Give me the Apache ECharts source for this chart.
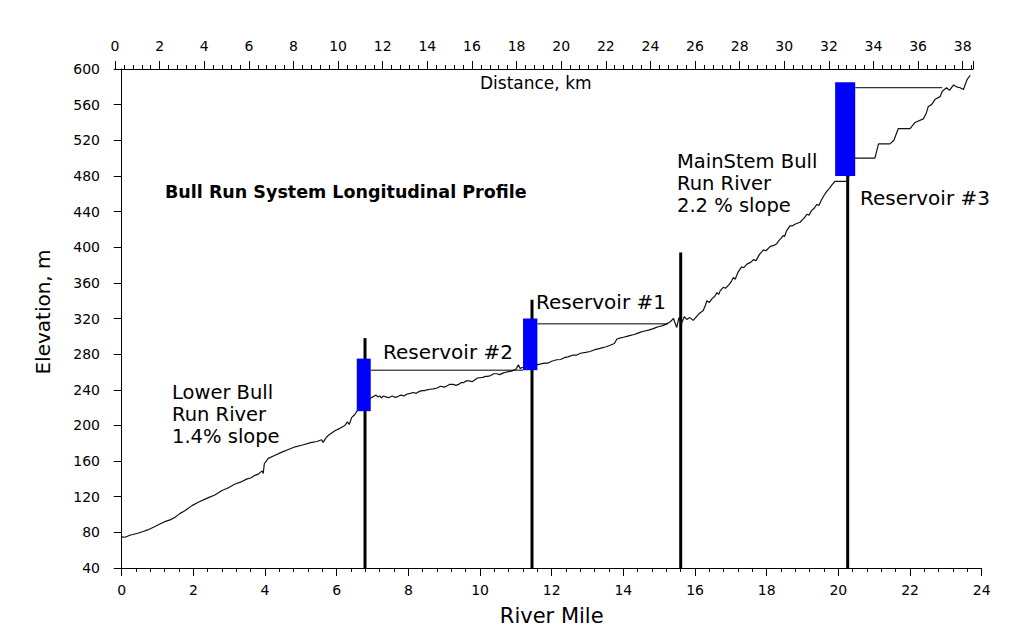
<!DOCTYPE html>
<html><head><meta charset="utf-8">
<script src="https://cdn.jsdelivr.net/npm/echarts@6/dist/echarts.min.js"></script>
<style>html,body{margin:0;padding:0;background:#fff}#c{width:1034px;height:631px}</style>
</head><body><div id="c"></div>
<script>
// ---- data ----
// longitudinal profile [river mile, elevation m]
const lowerRiver = [
  [0.00,75],[0.09,74.5],[0.25,77],[0.45,79],[0.60,81],[0.74,83],[0.90,86],[1.05,89],[1.20,92],[1.35,94],
  [1.49,97],[1.62,101],[1.75,104],[1.96,110],[2.15,114],[2.42,119],[2.60,122],[2.80,127],[2.98,130],[3.15,134],
  [3.35,137],[3.50,140],[3.60,141],[3.72,144],[3.80,145],[3.86,147],[3.92,149],[3.95,146],[3.98,157],[4.09,163],
  [4.25,166],[4.47,170],[4.65,173],[4.84,176],[5.05,178],[5.30,181],[5.45,182],[5.58,184],[5.62,181],[5.70,186],
  [5.77,189],[5.95,194],[6.10,197],[6.23,200],[6.30,204],[6.35,201],[6.42,209],[6.50,212],[6.60,218],[6.70,221],[6.76,224]
];
const reservoir2Reach = [
  [6.98,231.5],[7.05,233],[7.10,234],[7.15,232],[7.20,233],[7.25,231],[7.30,233],[7.38,232],[7.45,231],[7.55,233],
  [7.60,232],[7.67,231.5],[7.73,233],[7.80,234],[7.88,233],[7.95,235],[8.05,236],[8.14,237],[8.22,236],[8.30,238],
  [8.38,239],[8.45,239],[8.52,240],[8.60,240.6],[8.70,241],[8.80,242],[8.90,244],[9.00,243],[9.07,244.3],[9.15,246],
  [9.25,246],[9.33,245],[9.40,246],[9.47,248],[9.53,248],[9.62,250],[9.70,250],[9.78,249],[9.85,251],[9.92,253],
  [10.00,253.5],[10.08,254],[10.15,255],[10.22,255],[10.30,256],[10.38,258],[10.47,258],[10.55,257],[10.65,259],
  [10.75,260],[10.88,261],[11.00,263],[11.07,268],[11.12,264],[11.18,265]
];
const reservoir1Reach = [
  [11.58,268],[11.70,269],[11.80,270],[11.90,270],[12.00,272],[12.14,273.7],[12.25,274],[12.35,276],[12.45,277],
  [12.60,279],[12.70,279],[12.80,281],[12.95,282],[13.07,283],[13.20,285],[13.30,286],[13.40,287],[13.50,288],
  [13.63,290],[13.75,292],[13.82,297],[13.90,298],[14.00,299],[14.10,300],[14.20,301],[14.30,302],[14.37,303],
  [14.50,305],[14.60,306],[14.70,307],[14.84,308.6],[14.92,310],[15.00,311],[15.10,312],[15.21,314],[15.30,316],
  [15.40,320],[15.45,314],[15.49,310],[15.55,321],[15.62,314],[15.70,322],[15.77,319],[15.85,321],[15.95,318]
];
const mainStemReach = [
  [16.10,325],[16.23,329],[16.30,336],[16.33,340],[16.40,338],[16.47,342],[16.55,345],[16.61,349],[16.66,347],
  [16.70,351],[16.79,355],[16.85,354],[16.95,358],[17.02,362],[17.07,366],[17.12,364],[17.20,372],[17.30,378],
  [17.36,377],[17.45,381],[17.55,383],[17.63,386],[17.70,385],[17.80,392],[17.91,397],[17.98,396],[18.10,401],
  [18.20,402],[18.28,404],[18.35,408],[18.40,410],[18.46,413],[18.50,412],[18.55,418],[18.65,424],[18.72,424],
  [18.80,426],[18.93,428],[19.00,431],[19.05,433],[19.12,437],[19.18,436],[19.25,441],[19.33,444],[19.40,448],
  [19.46,447],[19.54,454],[19.60,458],[19.68,463],[19.75,466],[19.82,470],[19.91,474],[20.10,474],[20.25,474]
];
const upperReach = [
  [20.45,500],[21.02,500],[21.12,516],[21.44,516],[21.55,520],[21.67,533],[22.00,533],[22.14,540],[22.37,544],
  [22.45,550],[22.51,558],[22.60,560],[22.70,566],[22.84,569],[22.90,575],[23.02,579],[23.10,576],[23.21,582],
  [23.30,580],[23.40,579],[23.49,577],[23.59,588],[23.68,593]
];
// reservoir pool levels (water surface lines)
const poolNames     = ['Reservoir #2','Reservoir #1','Reservoir #3'];
const poolStartMile = [6.95, 11.60, 20.47];
const poolEndMile   = [11.20, 15.25, 22.90];
const poolElev      = [262, 314, 579];
// reservoir blue boxes
const boxStartMile = [6.56, 11.20, 19.91];
const boxEndMile   = [6.95, 11.60, 20.47];
const boxBottom    = [216, 262, 480];
const boxTop       = [275, 320, 585];
// dams (vertical bars)
const damMile = [6.79, 11.45, 15.60, 20.26];
const damTop  = [298, 341, 394, 480];
// axis ranges / ticks
const mileMin = 0, mileMax = 24, mileStep = 2;
const kmMin = 0, kmMax = 38.46, kmStep = 2;
const elevMin = 40, elevMax = 600, elevStep = 40;

// ---- chart ----
const FONT = 'DejaVu Sans';
const chart = echarts.init(document.getElementById('c'), null, {renderer:'svg'});
const black = '#000';
const profileData = [].concat(lowerRiver, reservoir2Reach, reservoir1Reach, mainStemReach, upperReach);
const poolSeries = poolNames.map((n,i)=>({
  type:'line', name:n, xAxisIndex:0, yAxisIndex:0, symbol:'none', silent:true,
  lineStyle:{color:black,width:1}, z:3,
  data:[[poolStartMile[i],poolElev[i]],[poolEndMile[i],poolElev[i]]]
}));
const boxData = boxStartMile.map((s,i)=>[s, boxEndMile[i], boxBottom[i], boxTop[i]]);
const damData = damMile.map((m,i)=>[m, damTop[i]]);

const axisTextStyle = {fontFamily:FONT, fontSize:14, color:black};
function txt(text, x, y, size, extra){
  return {type:'text', z:10, style:Object.assign({text:text, x:x, y:y, font:size+'px "DejaVu Sans"', fill:black,
    align:'left', verticalAlign:'middle', textAlign:'left', textVerticalAlign:'middle'}, extra||{})};
}
const option = {
  animation:false,
  backgroundColor:'#fff',
  grid:[
    {left:121.7, right:52.3, top:69, bottom:54},
    {left:115, right:61, top:69, bottom:54}
  ],
  xAxis:[
    {type:'value', gridIndex:0, position:'bottom', min:mileMin, max:mileMax, interval:mileStep,
     axisLine:{show:true, onZero:false, lineStyle:{color:black,width:1}},
     axisTick:{show:true, length:8, lineStyle:{color:black,width:1}},
     minorTick:{show:true, splitNumber:5, length:4, lineStyle:{color:black,width:1}},
     splitLine:{show:false}, minorSplitLine:{show:false},
     axisLabel:Object.assign({margin:15}, axisTextStyle),
     name:'River Mile', nameLocation:'middle', nameGap:37,
     nameTextStyle:{fontFamily:FONT, fontSize:21, color:black}},
    {type:'value', gridIndex:1, position:'top', min:kmMin, max:kmMax, interval:kmStep,
     axisLine:{show:true, onZero:false, lineStyle:{color:black,width:1}},
     axisTick:{show:true, length:8, lineStyle:{color:black,width:1}},
     minorTick:{show:true, splitNumber:5, length:4, lineStyle:{color:black,width:1}},
     splitLine:{show:false}, minorSplitLine:{show:false},
     axisLabel:Object.assign({margin:16, showMaxLabel:false}, axisTextStyle)}
  ],
  yAxis:[
    {type:'value', gridIndex:0, min:elevMin, max:elevMax, interval:elevStep, offset:6.7,
     axisLine:{show:true, lineStyle:{color:black,width:1}},
     axisTick:{show:true, length:8, lineStyle:{color:black,width:1}},
     splitLine:{show:false},
     axisLabel:Object.assign({margin:15}, axisTextStyle)},
    {type:'value', gridIndex:1, min:0, max:1, show:false}
  ],
  series:[
    {type:'custom', name:'dams', xAxisIndex:0, yAxisIndex:0, z:2, silent:true,
     data:damData,
     renderItem:(params, api)=>{
       const a = api.coord([api.value(0), elevMin]);
       const b = api.coord([api.value(0), api.value(1)]);
       return {type:'line', shape:{x1:a[0],y1:a[1],x2:b[0],y2:b[1]}, style:{stroke:black, lineWidth:3}};
     }},
    {type:'line', name:'profile', xAxisIndex:0, yAxisIndex:0, symbol:'none', silent:true, z:3,
     lineStyle:{color:'#111', width:1.2}, data:profileData},
    ...poolSeries,
    {type:'custom', name:'reservoirs', xAxisIndex:0, yAxisIndex:0, z:6, silent:true,
     data:boxData, encode:{x:[0,1], y:[2,3]},
     renderItem:(params, api)=>{
       const p0 = api.coord([api.value(0), api.value(3)]);
       const p1 = api.coord([api.value(1), api.value(2)]);
       return {type:'rect', shape:{x:p0[0], y:p0[1], width:p1[0]-p0[0], height:p1[1]-p0[1]},
               style:{fill:'#0000ff'}};
     }}
  ],
  graphic:[
    txt('Distance, km', 480, 83, 17),
    {type:'text', z:10, rotation:Math.PI/2, x:43, y:312, style:{text:'Elevation, m', x:0, y:0, font:'20px "DejaVu Sans"', fill:black, align:'center', verticalAlign:'middle', textAlign:'center', textVerticalAlign:'middle'}},
    {type:'text', z:10, style:{text:'Bull Run System Longitudinal Profile', x:165, y:192, font:'bold 17.5px "DejaVu Sans"', fill:black, align:'left', verticalAlign:'middle', textAlign:'left', textVerticalAlign:'middle'}},
    txt('Lower Bull\nRun River\n1.4% slope', 172, 381, 19.5, {lineHeight:22, verticalAlign:'top', textVerticalAlign:'top'}),
    txt('Reservoir #2', 383, 352, 20),
    txt('Reservoir #1', 536, 302, 20),
    txt('MainStem Bull\nRun River\n2.2 % slope', 677, 150, 19.5, {lineHeight:22, verticalAlign:'top', textVerticalAlign:'top'}),
    txt('Reservoir #3', 860, 198, 20)
  ]
};
chart.setOption(option);
</script>
</body></html>
